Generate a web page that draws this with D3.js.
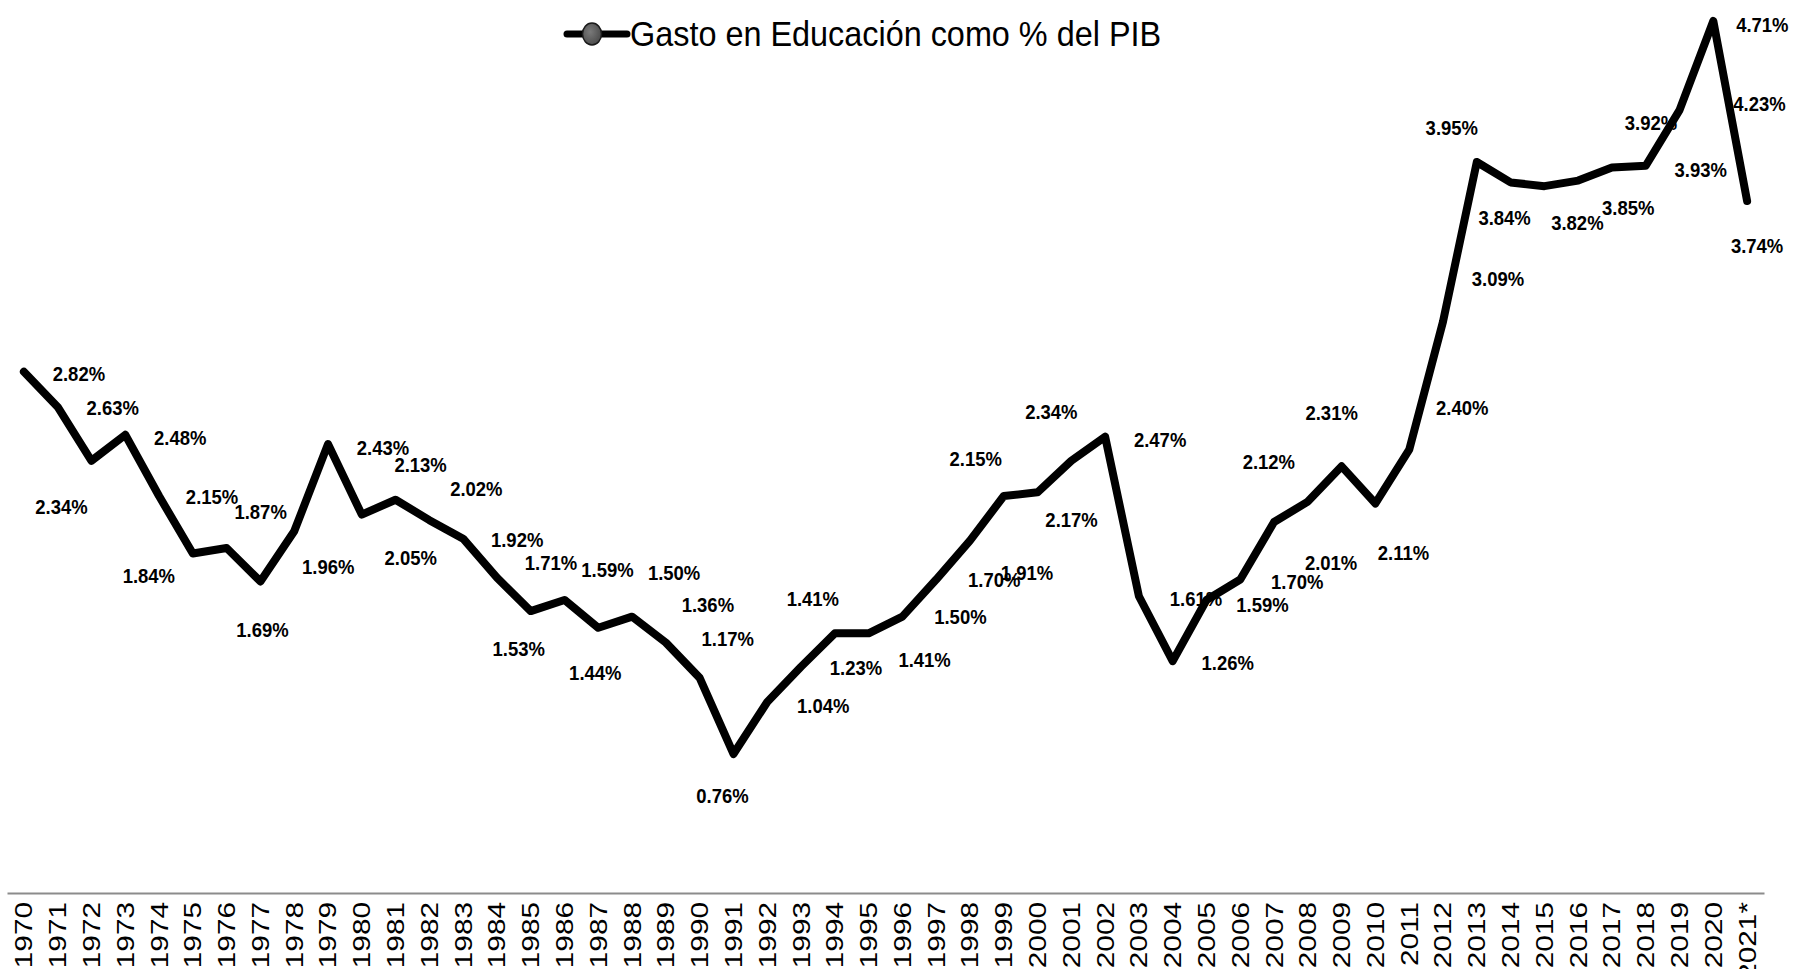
<!DOCTYPE html>
<html>
<head>
<meta charset="utf-8">
<script src="https://cdn.jsdelivr.net/npm/d3@7"></script>
<style>
  html, body { margin: 0; padding: 0; background: #fff; }
  svg { display: block; font-family: "Liberation Sans", Arial, sans-serif; }
</style>
</head>
<body>
<div id="chart"></div>
<script>
const years = ["1970", "1971", "1972", "1973", "1974", "1975", "1976", "1977", "1978", "1979",
    "1980", "1981", "1982", "1983", "1984", "1985", "1986", "1987", "1988", "1989",
    "1990", "1991", "1992", "1993", "1994", "1995", "1996", "1997", "1998", "1999",
    "2000", "2001", "2002", "2003", "2004", "2005", "2006", "2007", "2008", "2009",
    "2010", "2011", "2012", "2013", "2014", "2015", "2016", "2017", "2018", "2019",
    "2020", "2021*"];

const values = [2.82, 2.63, 2.34, 2.48, 2.15, 1.84, 1.87, 1.69, 1.96, 2.43,
    2.05, 2.13, 2.02, 1.92, 1.71, 1.53, 1.59, 1.44, 1.50, 1.36,
    1.17, 0.76, 1.04, 1.23, 1.41, 1.41, 1.50, 1.70, 1.91, 2.15,
    2.17, 2.34, 2.47, 1.61, 1.26, 1.59, 1.70, 2.01, 2.12, 2.31,
    2.11, 2.40, 3.09, 3.95, 3.84, 3.82, 3.85, 3.92, 3.93, 4.23,
    4.71, 3.74];

const seriesName = "Gasto en Educación como % del PIB";

// where each value label sits relative to its point (px), as placed in the original
const labelNudge = [[55, 2], [55, 1], [-30, 46], [55, 3], [53, 1], [-44, 22], [34, -36], [2, 48], [34, 35], [55, 3],
    [49, 43], [25, -35], [47, -32], [54, 1], [54, -15], [-12, 37], [43, -30], [-3, 45], [42, -44], [42, -38],
    [28, -39], [-11, 42], [56, 4], [55, 1], [-22, -35], [56, 26], [58, 0], [58, 0], [57, 32], [-28, -37],
    [34, 27], [-20, -49], [55, 3], [57, 2], [55, 1], [56, 5], [57, 2], [57, 41], [-39, -40], [-10, -54],
    [28, 49], [53, -42], [55, -43], [-25, -34], [-6, 35], [33, 36], [50, 27], [39, -45], [55, 4], [80, -7],
    [49, 4], [10, 45]];

const data = years.map((yr, i) => ({ year: yr, value: values[i], nudge: labelNudge[i] }));

const width = 1793;
const height = 969;
const axisY = 893;

const svg = d3.select("#chart")
    .append("svg")
    .attr("width", width)
    .attr("height", height)
    .attr("viewBox", `0 0 ${width} ${height}`);

const x = d3.scalePoint()
    .domain(years)
    .range([7, 1764])
    .padding(0.5);

const y = d3.scaleLinear()
    .domain([0, d3.max(values)])
    .range([895, 21]);

// category axis
svg.append("g")
    .attr("transform", `translate(0,${axisY})`)
    .call(d3.axisBottom(x).tickSize(0).tickSizeOuter(0))
    .call(g => g.select(".domain").attr("stroke", "#8c8c8c").attr("stroke-width", 2))
    .call(g => g.selectAll(".tick text")
        .attr("x", 0)
        .attr("y", 0)
        .attr("dy", null)
        .attr("fill", "#000")
        .attr("font-size", 24)
        .attr("font-family", "Liberation Sans, Arial, sans-serif")
        .attr("text-anchor", "end")
        .attr("dominant-baseline", "central")
        .attr("transform", "translate(0,9) rotate(-90) scale(1.24,1)"));

// series line
const line = d3.line()
    .x(d => x(d.year))
    .y(d => y(d.value));

svg.append("path")
    .datum(data)
    .attr("fill", "none")
    .attr("stroke", "#000")
    .attr("stroke-width", 8)
    .attr("stroke-linejoin", "round")
    .attr("stroke-linecap", "round")
    .attr("d", line);

// value labels (narrow bold look of the original)
svg.append("g")
    .selectAll("text")
    .data(data)
    .join("text")
    .attr("transform", d => `translate(${x(d.year) + d.nudge[0]},${y(d.value) + d.nudge[1]}) scale(0.88,1)`)
    .attr("text-anchor", "middle")
    .attr("dominant-baseline", "central")
    .attr("font-size", 21)
    .attr("font-weight", "bold")
    .attr("fill", "#000")
    .text(d => d3.format(".2f")(d.value) + "%");

// legend
const legend = svg.append("g").attr("transform", "translate(567,34)");

const grad = svg.append("defs").append("radialGradient")
    .attr("id", "dot")
    .attr("cx", "40%").attr("cy", "40%").attr("r", "65%");
grad.append("stop").attr("offset", "0%").attr("stop-color", "#7a7a7a");
grad.append("stop").attr("offset", "100%").attr("stop-color", "#4a4a4a");

legend.append("line")
    .attr("x1", 0).attr("x2", 60)
    .attr("stroke", "#000")
    .attr("stroke-width", 7)
    .attr("stroke-linecap", "round");

legend.append("ellipse")
    .attr("cx", 25)
    .attr("rx", 9.5)
    .attr("ry", 11)
    .attr("fill", "url(#dot)")
    .attr("stroke", "#1a1a1a")
    .attr("stroke-width", 1.5);

legend.append("text")
    .attr("transform", "translate(63,12) scale(0.9,1)")
    .attr("font-size", 36)
    .attr("fill", "#000")
    .text(seriesName);
</script>
</body>
</html>
